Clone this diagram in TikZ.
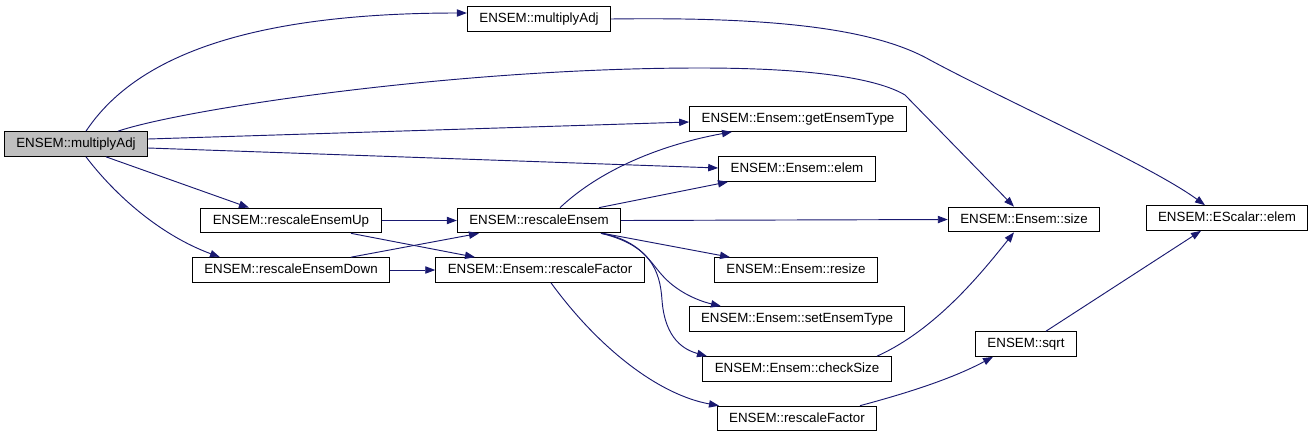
\documentclass[tikz,border=0pt]{standalone}
\usepackage{fontspec}
\setmainfont{Liberation Sans}
\usetikzlibrary{arrows.meta,calc}
\definecolor{callblue}{HTML}{191970}
\definecolor{nodegray}{HTML}{BFBFBF}
\tikzset{
  fn/.style={draw=black, line width=0.75pt, fill=white, inner xsep=9pt,
    inner ysep=0pt, minimum height=18.5pt, text height=7.3pt, text depth=2pt,
    font=\fontsize{10}{12}\selectfont},
  call/.style={callblue, line width=0.7pt, -{Triangle[length=7.5pt,width=5.5pt]}}
}

\begin{document}
\begin{tikzpicture}[x=0.75pt, y=-0.75pt]
    \useasboundingbox (0,0) rectangle (1314,436);
    %% --- the function itself ---
    \node[fn, fill=nodegray] (adj) at (76,144) {ENSEM::multiplyAdj};
    %% --- callees ---
    \foreach \n/\x/\y/\t in {madj/539/19/{ENSEM::multiplyAdj},
        gettype/798/119/{ENSEM::Ensem::getEnsemType},
        elem/797/169/{ENSEM::Ensem::elem},
        size/1024/219.5/{ENSEM::Ensem::size},
        selem/1227/218/{ENSEM::EScalar::elem},
        up/291/220.5/{ENSEM::rescaleEnsemUp},
        resc/539/220.5/{ENSEM::rescaleEnsem},
        down/291/270/{ENSEM::rescaleEnsemDown},
        efac/540/270/{ENSEM::Ensem::rescaleFactor},
        resize/796/270/{ENSEM::Ensem::resize},
        settype/797/319/{ENSEM::Ensem::setEnsemType},
        check/797/369/{ENSEM::Ensem::checkSize},
        sqrt/1026/344/{ENSEM::sqrt},
        fac/797/418.5/{ENSEM::rescaleFactor}} {
      \node[fn] (\n) at (\x,\y) {\t};
    }
    %% --- calls out of multiplyAdj ---
    \draw[call] ($(adj.north)+(10,0)$) .. controls (130,65) and (230,13)
      .. ($(madj.west)+(0,-6)$);
    \draw[call] ($(adj.north)+(42,0)$) .. controls (180,110) and (450,68)
      .. (700,68) .. controls (820,68) and (880,80) .. (905,95)
      -- ($(size.north)+(-10,0)$);
    \draw[call] ($(adj.east)+(0,-5)$) -- ($(gettype.west)+(0,3)$);
    \draw[call] ($(adj.east)+(0,4)$) -- ($(elem.west)+(0,-1)$);
    \draw[call] ($(adj.south)+(30,0)$) -- ($(up.north)+(-42,0)$);
    \draw[call] ($(adj.south)+(10,0)$) .. controls (115,195) and (160,235)
      .. ($(down.north)+(-71,0)$);
    \draw[call] (madj.east) .. controls (760,17) and (870,26) .. (930,60)
      .. controls (1010,103) and (1150,165) .. ($(selem.north)+(-22,0)$);
    %% --- rescaleEnsemUp / rescaleEnsemDown ---
    \draw[call] (up.east) -- (resc.west);
    \draw[call] ($(up.south)+(60,0)$) -- ($(efac.north)+(-65,0)$);
    \draw[call] ($(down.north)+(60,0)$) -- ($(resc.south)+(-60,0)$);
    \draw[call] (down.east) -- (efac.west);
    %% --- rescaleEnsem fan out ---
    \draw[call] ($(resc.north)+(21,0)$) .. controls (600,170) and (660,145)
      .. ($(gettype.south)+(-66,0)$);
    \draw[call] ($(resc.north)+(60,0)$) -- ($(elem.south)+(-69,0)$);
    \draw[call] (resc.east) -- (size.west);
    \draw[call] ($(resc.south)+(64,0)$) -- ($(resize.north)+(-66,0)$);
    \draw[call] ($(resc.south)+(62,0)$) .. controls (640,240) and (650,262)
      .. (662,275) .. controls (675,290) and (695,300)
      .. ($(settype.north)+(-76,0)$);
    \draw[call] ($(resc.south)+(62,0)$) .. controls (650,245) and (660,270)
      .. (662,300) .. controls (665,340) and (685,350)
      .. ($(check.north)+(-90,0)$);
    %% --- rescaleFactor chain ---
    \draw[call] ($(efac.south)+(11,0)$) .. controls (600,350) and (660,395)
      .. ($(fac.north)+(-78,0)$);
    \draw[call] ($(check.north)+(80,0)$) .. controls (935,330) and (980,275)
      .. ($(size.south)+(-10,0)$);
    \draw[call] ($(fac.north)+(63,0)$) .. controls (900,395) and (950,380)
      .. ($(sqrt.south)+(-33,0)$);
    \draw[call] ($(sqrt.north)+(20,0)$) -- ($(selem.south)+(-26,0)$);
  \end{tikzpicture}
\end{document}
